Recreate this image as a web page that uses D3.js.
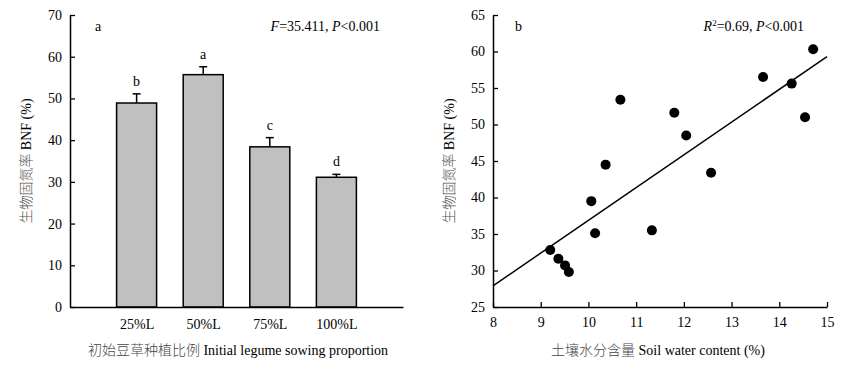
<!DOCTYPE html>
<html><head><meta charset="utf-8">
<script src="https://cdn.jsdelivr.net/npm/d3@7"></script>
<style>
body{margin:0;background:#fff;}
text{font-family:"Liberation Serif","Times New Roman",serif;}
.cjk{font-family:"Noto Sans CJK SC",sans-serif;font-weight:300;}
</style></head>
<body>
<svg id="chart" width="846" height="373"></svg>
<script>
// Panel a data
const categories = ["25%L", "50%L", "75%L", "100%L"];
const bnfMeans = [48.9, 55.7, 38.4, 31.1];
const bnfErrors = [2.2, 1.9, 2.2, 0.7];
const sigLetters = ["b", "a", "c", "d"];
const yTicksA = [0, 10, 20, 30, 40, 50, 60, 70];

// Panel b data
const soilWater = [9.20, 9.37, 9.51, 9.59, 10.06, 10.14, 10.36, 10.67, 11.33, 11.80, 12.05, 12.57, 13.66, 14.26, 14.54, 14.71];
const bnfPoints = [32.8, 31.6, 30.7, 29.8, 39.5, 35.1, 44.5, 53.4, 35.5, 51.6, 48.5, 43.4, 56.5, 55.6, 51.0, 60.3];
const fitLineX = [8, 15];
const fitLineY = [27.9, 59.3];
const xTicksB = [8, 9, 10, 11, 12, 13, 14, 15];
const yTicksB = [25, 30, 35, 40, 45, 50, 55, 60, 65];

const svg = d3.select("#chart");
const plotTop = 15, plotBottom = 307;

function styleAxis(g){
  g.select(".domain").attr("stroke","#000").attr("stroke-width",1.5);
  g.selectAll(".tick line").attr("stroke","#000").attr("stroke-width",1.3);
  g.selectAll(".tick text").attr("fill","#000").style("font-size","14px")
    .style("font-family","'Liberation Serif',serif");
}

// ---------- Panel a ----------
const ax0 = 70, ax1 = 403;
const xA = d3.scalePoint().domain(["_l", ...categories, "_r"]).range([ax0, ax1]);
const yA = d3.scaleLinear().domain([0, 70]).range([plotBottom, plotTop]);
const barW = 40;

const gA = svg.append("g");
gA.append("g").attr("transform", `translate(${ax0},0)`)
  .call(d3.axisLeft(yA).tickValues(yTicksA).tickSize(-5).tickSizeOuter(0).tickPadding(8))
  .call(styleAxis);

gA.selectAll("rect.bar").data(categories).join("rect")
  .attr("x", d => xA(d) - barW/2).attr("width", barW)
  .attr("y", (d,i) => yA(bnfMeans[i])).attr("height", (d,i) => yA(0) - yA(bnfMeans[i]))
  .attr("fill", "#c0c0c0").attr("stroke", "#000").attr("stroke-width", 1.5);

categories.forEach((c, i) => {
  const cx = xA(c), y1 = yA(bnfMeans[i]), y2 = yA(bnfMeans[i] + bnfErrors[i]);
  gA.append("line").attr("x1", cx).attr("x2", cx).attr("y1", y1).attr("y2", y2)
    .attr("stroke", "#000").attr("stroke-width", 1.5);
  gA.append("line").attr("x1", cx - 4).attr("x2", cx + 4).attr("y1", y2).attr("y2", y2)
    .attr("stroke", "#000").attr("stroke-width", 1.5);
  gA.append("text").attr("x", cx).attr("y", y2 - 8).attr("text-anchor", "middle")
    .style("font-size", "14px").text(sigLetters[i]);
});

gA.append("g").attr("transform", `translate(0,${plotBottom})`)
  .call(d3.axisBottom(xA).tickValues(categories).tickSize(0).tickPadding(12).tickSizeOuter(0))
  .call(styleAxis);

gA.append("text").attr("x", 95).attr("y", 31).style("font-size", "14px").text("a");
const fA = gA.append("text").attr("x", 380).attr("y", 31).attr("text-anchor", "end").style("font-size", "14px");
fA.append("tspan").style("font-style", "italic").text("F");
fA.append("tspan").text("=35.411, ");
fA.append("tspan").style("font-style", "italic").text("P");
fA.append("tspan").text("<0.001");

const ylabA = gA.append("text").attr("transform", `translate(31,${(plotTop+plotBottom)/2}) rotate(-90)`)
  .attr("text-anchor", "middle").style("font-size", "14px");
ylabA.append("tspan").attr("class", "cjk").attr("fill", "#555").text("生物固氮率");
ylabA.append("tspan").text(" BNF (%)");

const xlabA = gA.append("text").attr("x", 238).attr("y", 355).attr("text-anchor", "middle").style("font-size", "14px");
xlabA.append("tspan").attr("class", "cjk").attr("fill", "#444").text("初始豆草种植比例");
xlabA.append("tspan").text(" Initial legume sowing proportion");

// ---------- Panel b ----------
const bx0 = 493, bx1 = 827;
const xB = d3.scaleLinear().domain([8, 15]).range([bx0, bx1]);
const yB = d3.scaleLinear().domain([25, 65]).range([plotBottom, plotTop]);

const gB = svg.append("g");
gB.append("g").attr("transform", `translate(${bx0},0)`)
  .call(d3.axisLeft(yB).tickValues(yTicksB).tickSize(-5).tickSizeOuter(0).tickPadding(8))
  .call(styleAxis);
gB.append("g").attr("transform", `translate(0,${plotBottom})`)
  .call(d3.axisBottom(xB).tickValues(xTicksB).tickFormat(d3.format("d")).tickSize(-5).tickSizeOuter(0).tickPadding(10))
  .call(styleAxis);

gB.append("line")
  .attr("x1", xB(fitLineX[0])).attr("y1", yB(fitLineY[0]))
  .attr("x2", xB(fitLineX[1])).attr("y2", yB(fitLineY[1]))
  .attr("stroke", "#000").attr("stroke-width", 1.5);

gB.selectAll("circle.pt").data(soilWater).join("circle")
  .attr("cx", d => xB(d)).attr("cy", (d,i) => yB(bnfPoints[i])).attr("r", 5)
  .attr("fill", "#000");

gB.append("text").attr("x", 515).attr("y", 31).style("font-size", "14px").text("b");
const rB = gB.append("text").attr("x", 804).attr("y", 31).attr("text-anchor", "end").style("font-size", "14px");
rB.append("tspan").style("font-style", "italic").text("R");
rB.append("tspan").attr("dy", -5).style("font-size", "9px").text("2");
rB.append("tspan").attr("dy", 5).text("=0.69, ");
rB.append("tspan").style("font-style", "italic").text("P");
rB.append("tspan").text("<0.001");

const ylabB = gB.append("text").attr("transform", `translate(454,${(plotTop+plotBottom)/2}) rotate(-90)`)
  .attr("text-anchor", "middle").style("font-size", "14px");
ylabB.append("tspan").attr("class", "cjk").attr("fill", "#555").text("生物固氮率");
ylabB.append("tspan").text(" BNF (%)");

const xlabB = gB.append("text").attr("x", 658).attr("y", 355).attr("text-anchor", "middle").style("font-size", "14px");
xlabB.append("tspan").attr("class", "cjk").attr("fill", "#444").text("土壤水分含量");
xlabB.append("tspan").text(" Soil water content (%)");
</script>
</body></html>
